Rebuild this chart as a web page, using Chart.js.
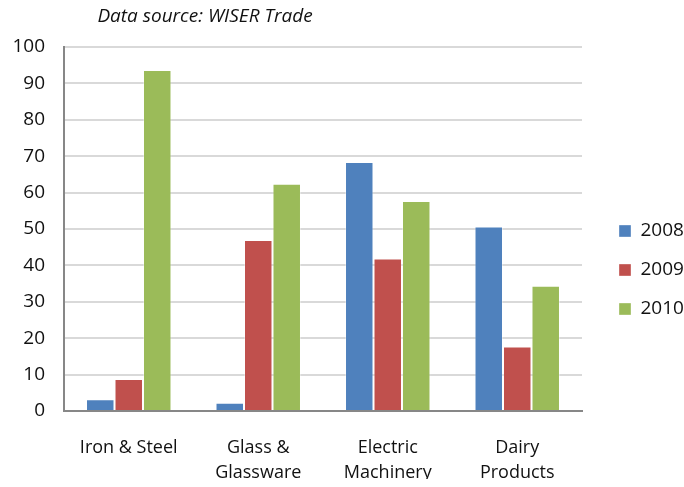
<!DOCTYPE html>
<html>
<head>
<meta charset="utf-8">
<script src="https://cdn.jsdelivr.net/npm/chart.js@4/dist/chart.umd.min.js"></script>
<style>
  html, body { margin: 0; padding: 0; background: #ffffff; }
  #wrap { width: 684px; height: 487px; position: relative; }
</style>
</head>
<body>
<div id="wrap"><canvas id="c" width="684" height="487"></canvas></div>
<script>
// Export growth by product group, percent
const categories = [["Iron & Steel"], ["Glass &", "Glassware"], ["Electric", "Machinery"], ["Dairy", "Products"]];
const seriesNames = ["2008", "2009", "2010"];
const values2008 = [3.2, 2.3, 68.4, 50.7];
const values2009 = [8.8, 47.0, 41.9, 17.7];
const values2010 = [93.7, 62.4, 57.7, 34.4];
const yTicks = [0, 10, 20, 30, 40, 50, 60, 70, 80, 90, 100];
const sourceNote = "Data source: WISER Trade";

const colors = ["#4F81BD", "#C0504D", "#9BBB59"];
const FONT = "'Open Sans', 'Noto Sans', sans-serif";
const TEXT = "#111111";

// Italic source note above the plot
const notePlugin = {
  id: "sourceNote",
  afterDraw(chart) {
    const ctx = chart.ctx;
    ctx.save();
    ctx.font = "italic 19px " + FONT;
    ctx.fillStyle = TEXT;
    ctx.textAlign = "center";
    ctx.textBaseline = "middle";
    ctx.fillText(sourceNote, 205, 17);
    ctx.restore();
  }
};

// Fixed legend column width, and a small offset of the legend block
const LEGEND_WIDTH = 102;
const legendPlacement = {
  id: "legendPlacement",
  beforeLayout(chart) {
    const lg = chart.legend;
    if (lg && !lg._fixedWidth) {
      lg._fixedWidth = true;
      const baseFit = lg.fit;
      lg.fit = function () {
        baseFit.call(this);
        this.width = LEGEND_WIDTH;
      };
    }
  },
  afterLayout(chart) {
    const lg = chart.legend;
    if (lg) {
      lg.left += 17; lg.right += 17;
      lg.top += 7; lg.bottom += 7;
    }
  }
};

new Chart(document.getElementById("c"), {
  type: "bar",
  data: {
    labels: categories,
    datasets: [values2008, values2009, values2010].map((vals, i) => ({
      label: seriesNames[i],
      data: vals,
      backgroundColor: colors[i],
      borderColor: "rgba(255,255,255,0.35)",
      borderWidth: 1,
      categoryPercentage: 0.66,
      barPercentage: 1.0
    }))
  },
  options: {
    responsive: false,
    animation: false,
    devicePixelRatio: 1,
    layout: { padding: { top: 47, left: 0, right: 0, bottom: 8 } },
    plugins: {
      legend: {
        position: "right",
        align: "center",
        labels: {
          boxWidth: 12,
          boxHeight: 12,
          padding: 20,
          color: TEXT,
          font: { family: FONT, size: 19 }
        }
      },
      tooltip: { enabled: false },
      title: { display: false }
    },
    scales: {
      x: {
        grid: { display: false, drawTicks: false },
        border: { display: true, color: "#878787", width: 2 },
        ticks: {
          color: TEXT,
          font: { family: FONT, size: 18, lineHeight: 1.4 },
          padding: 24,
          maxRotation: 0,
          autoSkip: false
        },
        afterFit(scale) { scale.height = 68; }
      },
      y: {
        min: 0,
        max: 100,
        afterBuildTicks(scale) { scale.ticks = yTicks.map(v => ({ value: v })); },
        grid: { color: "#d9d9d9", lineWidth: 2, drawTicks: false },
        border: { display: true, color: "#878787", width: 2 },
        ticks: {
          color: TEXT,
          font: { family: FONT, size: 19 },
          padding: 19
        },
        afterFit(scale) { scale.width = 64; }
      }
    }
  },
  plugins: [notePlugin, legendPlacement]
});
</script>
</body>
</html>
